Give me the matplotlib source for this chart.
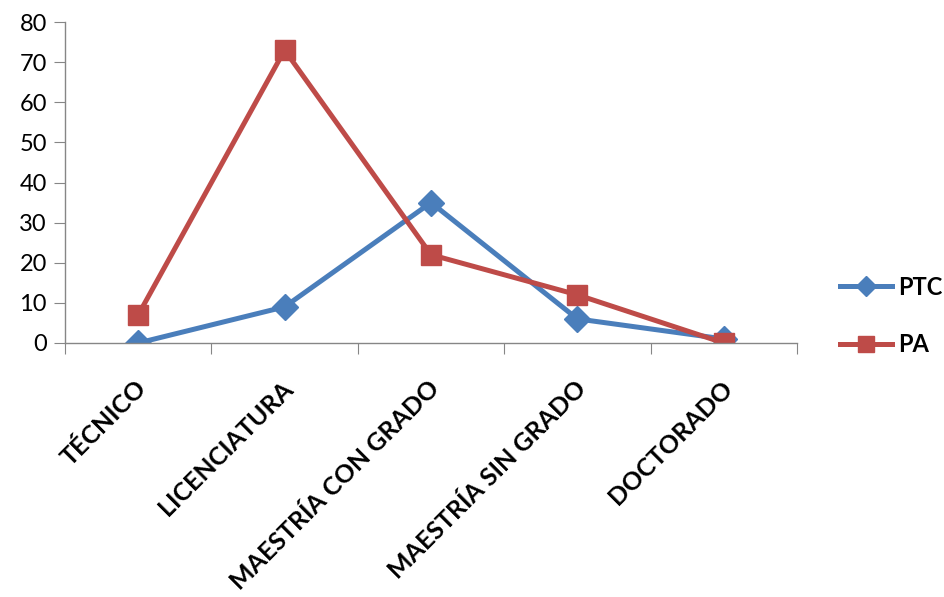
import matplotlib.pyplot as plt
import matplotlib.transforms as mtransforms

# Daten
categorias = ['TÉCNICO', 'LICENCIATURA', 'MAESTRÍA CON GRADO', 'MAESTRÍA SIN GRADO', 'DOCTORADO']
ptc = [0, 9, 35, 6, 1]
pa = [7, 73, 22, 12, 0]

plt.rcParams['font.family'] = ['Lato', 'DejaVu Sans']

fig = plt.figure(figsize=(9.45, 5.97), dpi=100)
ax = fig.add_axes([0.0688, 0.4255, 0.7746, 0.5376])

x = range(len(categorias))
ax.plot(x, ptc, color='#4A7EBB', lw=3.6, marker='D', markersize=13, label='PTC')
ax.plot(x, pa, color='#BE4B48', lw=3.6, marker='s', markersize=15, label='PA')

ax.set_xlim(-0.5, len(categorias) - 0.5)
ax.set_ylim(0, 80)
ax.set_yticks(range(0, 81, 10))
ax.set_xticks([i - 0.5 for i in range(len(categorias) + 1)], minor=False)
ax.set_xticklabels([])
ax.set_xticks(list(x), minor=True)
ax.set_xticklabels(categorias, minor=True, rotation=45, ha='right', va='center',
                   rotation_mode='anchor', fontsize=18, fontweight='bold')
ax.tick_params(axis='x', which='minor', length=0, pad=30)
ax.tick_params(axis='x', which='major', length=8, color='#868686', direction='out')
ax.tick_params(axis='y', length=8, color='#868686', labelsize=17, pad=5)

# Etiquetas etwas nach rechts verschieben
desplazamiento = mtransforms.ScaledTranslation(5 / 100, 0, fig.dpi_scale_trans)
for lbl in ax.get_xticklabels(minor=True):
    lbl.set_transform(lbl.get_transform() + desplazamiento)

for s in ['top', 'right']:
    ax.spines[s].set_visible(False)
for s in ['left', 'bottom']:
    ax.spines[s].set_color('#868686')
    ax.spines[s].set_linewidth(1)

leg = ax.legend(loc='center left', bbox_to_anchor=(1.03, 0.085), frameon=False,
                prop={'size': 17, 'weight': 'bold'},
                handlelength=2.2, labelspacing=1.45, handletextpad=0.25, markerscale=0.8)

plt.savefig('out.png', dpi=100)
